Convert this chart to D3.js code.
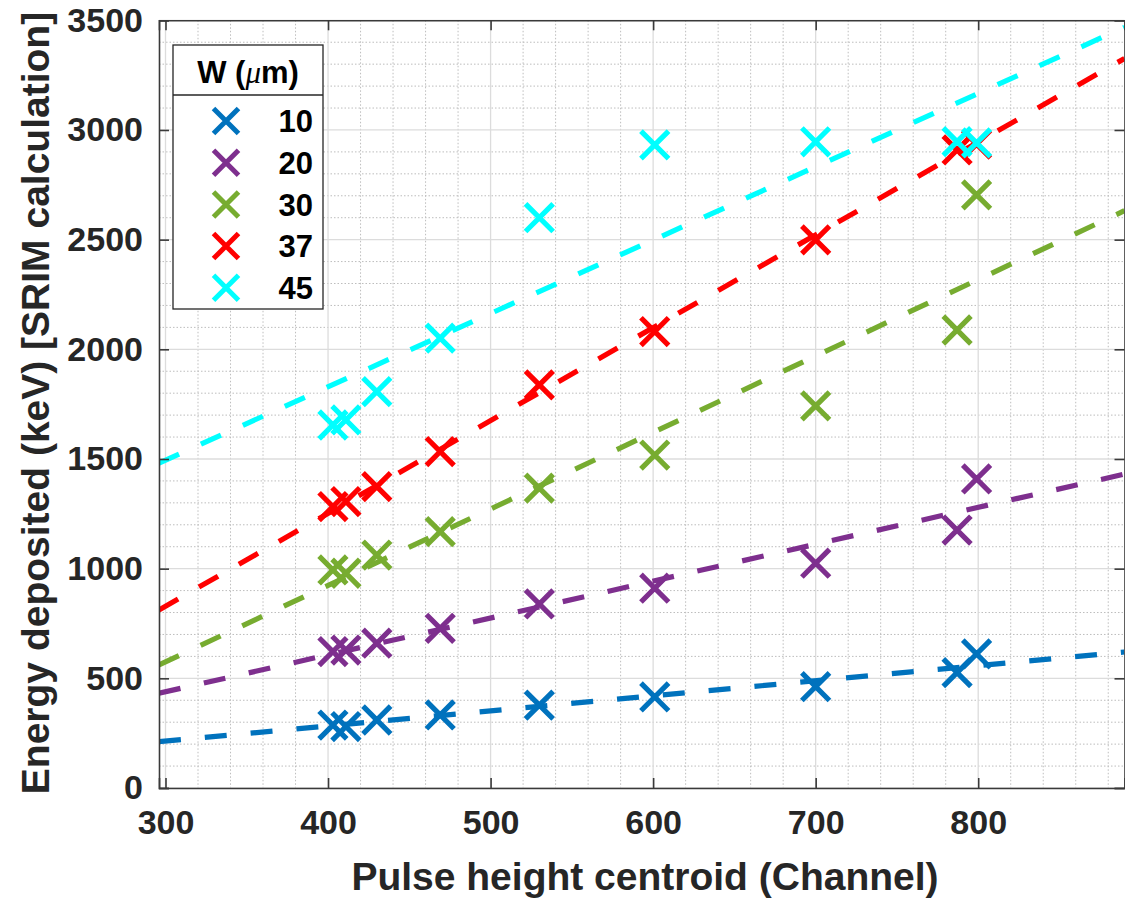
<!DOCTYPE html>
<html>
<head>
<meta charset="utf-8">
<script src="https://cdn.jsdelivr.net/npm/d3@7"></script>
<style>
  html, body { margin: 0; padding: 0; background: #ffffff; }
  svg { display: block; }
  text { font-family: "Liberation Sans", Arial, sans-serif; font-weight: bold; }
</style>
</head>
<body>
<svg id="chart" width="1125" height="900"></svg>
<script>
// ---------------- data ----------------
const channels = [403, 411, 430, 469, 530, 601, 700, 787, 799];
const widthLabels = ["10", "20", "30", "37", "45"];
const seriesColors = ["#0072BD", "#7E2F8E", "#77AC30", "#FF0000", "#00FFFF"];
const energy10 = [287, 280, 310, 333, 378, 415, 462, 526, 611];
const energy20 = [622, 629, 660, 728, 839, 911, 1025, 1176, 1409];
const energy30 = [994, 979, 1062, 1169, 1367, 1518, 1742, 2088, 2704];
const energy37 = [1283, 1306, 1374, 1534, 1838, 2081, 2499, 2909, 2935];
const energy45 = [1655, 1678, 1807, 2051, 2600, 2932, 2946, 2947, 2941];
// linear fit lines: energy at the two ends of the channel range
const fitChannels = [296, 890];
const fit10 = [211, 620];
const fit20 = [432, 1431];
const fit30 = [561, 2632];
const fit37 = [812, 3326];
const fit45 = [1481, 3468];
const xTickValues = [300, 400, 500, 600, 700, 800];
const yTickValues = [0, 500, 1000, 1500, 2000, 2500, 3000, 3500];
const xLabel = "Pulse height centroid (Channel)";
const yLabel = "Energy deposited (keV) [SRIM calculation]";

const energies = [energy10, energy20, energy30, energy37, energy45];
const fits = [fit10, fit20, fit30, fit37, fit45];

// ---------------- layout ----------------
const svg = d3.select("#chart");
const L = 159, R = 1124.5, T = 20.3, B = 788;
const x = d3.scaleLinear().domain([296, 890]).range([L, R]);
const y = d3.scaleLinear().domain([0, 3500]).range([B, T]);

const textColor = "#262626";

// clip
svg.append("defs").append("clipPath").attr("id", "plotclip")
  .append("rect").attr("x", L).attr("y", T).attr("width", R - L).attr("height", B - T);

// minor grid
const xMinor = d3.range(300, 891, 20).filter(v => v % 100 !== 0);
const yMinor = d3.range(0, 3501, 100).filter(v => v % 500 !== 0);
const grid = svg.append("g");
grid.selectAll(".xm").data(xMinor).enter().append("line")
  .attr("x1", d => x(d)).attr("x2", d => x(d)).attr("y1", T).attr("y2", B)
  .attr("stroke", "#bdbdbd").attr("stroke-width", 1).attr("stroke-dasharray", "1.5,2");
grid.selectAll(".ym").data(yMinor).enter().append("line")
  .attr("y1", d => y(d)).attr("y2", d => y(d)).attr("x1", L).attr("x2", R)
  .attr("stroke", "#bdbdbd").attr("stroke-width", 1).attr("stroke-dasharray", "1.5,2");
// major grid
grid.selectAll(".xM").data(xTickValues).enter().append("line")
  .attr("x1", d => x(d)).attr("x2", d => x(d)).attr("y1", T).attr("y2", B)
  .attr("stroke", "#dcdcdc").attr("stroke-width", 1.3);
grid.selectAll(".yM").data(yTickValues).enter().append("line")
  .attr("y1", d => y(d)).attr("y2", d => y(d)).attr("x1", L).attr("x2", R)
  .attr("stroke", "#dcdcdc").attr("stroke-width", 1.3);

// ---------------- series ----------------
const plot = svg.append("g").attr("clip-path", "url(#plotclip)");
const line = d3.line().x(d => x(d[0])).y(d => y(d[1]));
const ms = 13.8;
energies.forEach((vals, i) => {
  const g = plot.append("g");
  const pts = channels.map((c, j) => [c, vals[j]]);
  g.selectAll("path.mk").data(pts).enter().append("path")
    .attr("d", d => {
      const cx = x(d[0]), cy = y(d[1]);
      return `M${cx - ms},${cy - ms}L${cx + ms},${cy + ms}M${cx - ms},${cy + ms}L${cx + ms},${cy - ms}`;
    })
    .attr("stroke", seriesColors[i]).attr("stroke-width", 5.2).attr("fill", "none");
  g.append("path")
    .datum(fitChannels.map((c, j) => [c, fits[i][j]]))
    .attr("d", line)
    .attr("stroke", seriesColors[i]).attr("stroke-width", 5.2)
    .attr("stroke-dasharray", "22,24").attr("fill", "none");
});

// ---------------- axes ----------------
const axisColor = "#3a3a3a";
const xAxisB = d3.axisBottom(x).tickValues(xTickValues).tickSize(-10).tickPadding(22).tickFormat(d3.format("d"));
const gxb = svg.append("g").attr("transform", `translate(0,${B})`).call(xAxisB);
const xAxisT = d3.axisTop(x).tickValues(xTickValues).tickSize(-10).tickFormat("");
const gxt = svg.append("g").attr("transform", `translate(0,${T})`).call(xAxisT);
const yAxisL = d3.axisLeft(y).tickValues(yTickValues).tickSize(-10).tickPadding(16).tickFormat(d3.format("d"));
const gyl = svg.append("g").attr("transform", `translate(${L},0)`).call(yAxisL);
const yAxisR = d3.axisRight(y).tickValues(yTickValues).tickSize(-10).tickFormat("");
const gyr = svg.append("g").attr("transform", `translate(${R},0)`).call(yAxisR);

[gxb, gxt, gyl, gyr].forEach(g => {
  g.select(".domain").attr("stroke", axisColor).attr("stroke-width", 1.6);
  g.selectAll(".tick line").attr("stroke", axisColor).attr("stroke-width", 1.6);
  g.selectAll(".tick text").attr("fill", textColor)
    .style("font-size", "34px").style("font-family", "'Liberation Sans', Arial, sans-serif")
    .style("font-weight", "bold");
});
gxb.selectAll(".tick text").attr("dy", "0.71em");

// axis titles
svg.append("text")
  .attr("x", 645).attr("y", 890)
  .attr("text-anchor", "middle").attr("fill", textColor)
  .style("font-size", "39px")
  .text(xLabel);
svg.append("text")
  .attr("transform", `translate(49,403) rotate(-90)`)
  .attr("text-anchor", "middle").attr("fill", textColor)
  .style("font-size", "39px")
  .text(yLabel);

// ---------------- legend ----------------
const lg = svg.append("g");
const lx0 = 173, ly0 = 45, lx1 = 323, ly1 = 309;
lg.append("rect").attr("x", lx0).attr("y", ly0).attr("width", lx1 - lx0).attr("height", ly1 - ly0)
  .attr("fill", "#ffffff").attr("stroke", "#262626").attr("stroke-width", 1.3);
lg.append("line").attr("x1", lx0).attr("x2", lx1).attr("y1", 95).attr("y2", 95)
  .attr("stroke", "#262626").attr("stroke-width", 1.3);
const title = lg.append("text").attr("x", 248).attr("y", 83).attr("text-anchor", "middle")
  .attr("fill", "#000000").style("font-size", "31px");
title.append("tspan").text("W (");
title.append("tspan").style("font-family", "'Liberation Serif', 'DejaVu Serif', serif")
  .style("font-style", "italic").style("font-weight", "normal").text("\u03bc");
title.append("tspan").text("m)");

const legendRows = lg.selectAll("g.row").data(widthLabels).enter().append("g")
  .attr("transform", (d, i) => `translate(0,${121 + i * 41.7})`);
const lms = 12.5;
legendRows.append("path")
  .attr("d", `M${226 - lms},${-lms}L${226 + lms},${lms}M${226 - lms},${lms}L${226 + lms},${-lms}`)
  .attr("stroke", (d, i) => seriesColors[i]).attr("stroke-width", 5).attr("fill", "none");
legendRows.append("text")
  .attr("x", 313).attr("y", 0).attr("dy", "0.36em")
  .attr("text-anchor", "end").attr("fill", "#000000").style("font-size", "31px")
  .text(d => d);
</script>
</body>
</html>
